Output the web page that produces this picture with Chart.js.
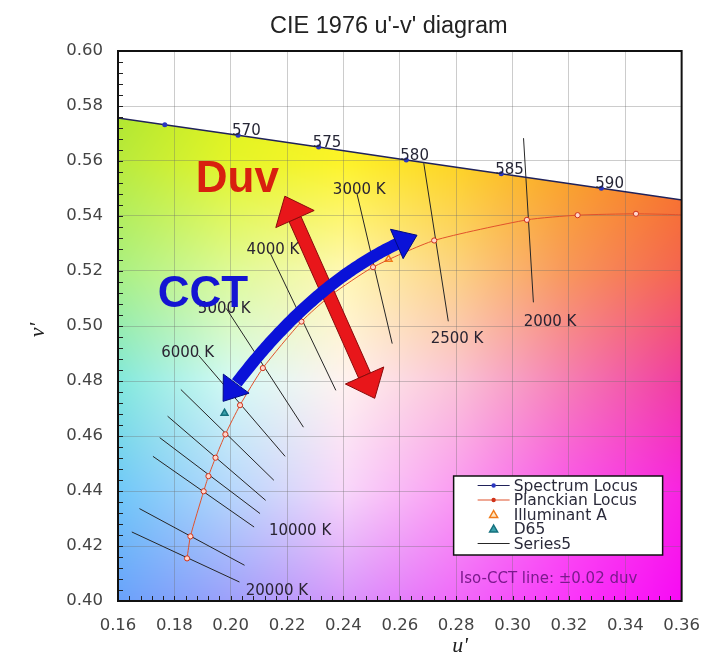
<!DOCTYPE html>
<html>
<head>
<meta charset="utf-8">
<script src="https://cdn.jsdelivr.net/npm/chart.js@4.4.1/dist/chart.umd.min.js"></script>
<style>
  body { margin: 0; background: #fff; }
</style>
</head>
<body>
<canvas id="myChart" width="715" height="659"></canvas>
<script>
// spectrum locus (nm, u', v')
const wlNm  = [560, 565, 570, 575, 580, 585, 590, 595];
const specU = [0.1531, 0.1766, 0.2026, 0.2312, 0.2623, 0.2960, 0.3315, 0.3681];
const specV = [0.5766, 0.5732, 0.5694, 0.5651, 0.5604, 0.5554, 0.5501, 0.5446];
const wlShown = [570, 575, 580, 585, 590];

// planckian locus
const planckK = [20000, 15000, 10000, 9000, 8000, 7000, 6000, 5000, 4000, 3500, 3000, 2500, 2000, 1800, 1600, 1500, 1400];
const planckU = [0.1845, 0.1857, 0.1904, 0.1921, 0.1946, 0.1981, 0.2033, 0.2114, 0.2251, 0.2357, 0.2505, 0.2722, 0.3051, 0.3231, 0.3438, 0.3579, 0.3822];
const planckV = [0.4155, 0.4235, 0.4399, 0.4454, 0.4521, 0.4606, 0.4712, 0.4847, 0.5016, 0.5113, 0.5214, 0.5311, 0.5386, 0.5403, 0.5408, 0.5405, 0.5396];
const planckMarked = [1, 1, 1, 1, 1, 1, 1, 1, 1, 1, 1, 1, 1, 1, 1, 0, 0];

const illumA = [0.2560, 0.5243];
const d65 = [0.1978, 0.4683];

// iso-CCT lines, +/-0.02 duv
const isoK  = [20000, 15000, 10000, 9000, 8000, 7000, 6000, 5000, 4000, 3000, 2500, 2000];
const isoU1 = [0.1649, 0.1676, 0.1724, 0.1748, 0.1776, 0.1823, 0.1886, 0.1984, 0.2141, 0.2448, 0.2685, 0.3039];
const isoV1 = [0.4251, 0.4336, 0.4526, 0.4594, 0.4672, 0.4769, 0.4893, 0.5064, 0.5263, 0.5481, 0.5592, 0.5683];
const isoU2 = [0.2031, 0.2049, 0.2083, 0.2104, 0.2124, 0.2153, 0.2193, 0.2258, 0.2373, 0.2573, 0.2772, 0.3074];
const isoV2 = [0.4069, 0.4130, 0.4269, 0.4318, 0.4366, 0.4439, 0.4526, 0.4632, 0.4766, 0.4936, 0.5017, 0.5086];

const cctText = ['3000 K', '4000 K', '5000 K', '6000 K', '10000 K', '20000 K', '2500 K', '2000 K'];
const cctTextU = [0.2456, 0.2150, 0.1977, 0.1847, 0.2246, 0.2164, 0.2803, 0.3133];
const cctTextV = [0.5493, 0.5275, 0.5063, 0.4903, 0.4255, 0.4037, 0.4953, 0.5015];

const xTicks = [0.16, 0.18, 0.20, 0.22, 0.24, 0.26, 0.28, 0.30, 0.32, 0.34, 0.36];
const yTicks = [0.40, 0.42, 0.44, 0.46, 0.48, 0.50, 0.52, 0.54, 0.56, 0.58, 0.60];

// annotation arrows (u', v')
const duvArrow = [[0.2192, 0.5472], [0.2511, 0.4737]];
const cctArrow = [[0.1973, 0.4726], [0.2289, 0.5180], [0.2661, 0.5330]];
const duvTextAt = [0.1876, 0.5486];
const cctTextAt = [0.1741, 0.5068];

// colour field under the locus, rows v' = .60 .56 .52 .48 .44 .40, cols u' = .16 .. .36
const bgGrid = [
  [[165,226,35],[215,238,20],[250,240,10],[250,215,10],[250,170,10],[250,120,10]],
  [[185,234,60],[228,245,40],[253,243,40],[253,212,35],[250,165,35],[248,120,35]],
  [[170,240,130],[222,250,150],[255,248,180],[252,210,130],[248,150,90],[244,100,80]],
  [[130,232,220],[212,250,245],[255,242,240],[250,195,215],[245,125,180],[240,60,160]],
  [[112,200,248],[182,215,252],[248,215,250],[250,155,242],[250,85,235],[248,35,225]],
  [[105,162,250],[158,160,250],[215,150,250],[240,105,250],[250,55,250],[248,10,245]]
];

let specPts = specU.map((u, i) => ({x: u, y: specV[i]}));
let planckPts = planckU.map((u, i) => ({x: u, y: planckV[i]}));
let isoPts = [];
isoK.forEach((k, i) => {
  isoPts.push({x: isoU1[i], y: isoV1[i]});
  isoPts.push({x: isoU2[i], y: isoV2[i]});
  isoPts.push({x: null, y: null});
});

let bgCanvas = null;

const colourField = {
  id: 'colourField',
  beforeDraw(chart) {
    const {ctx, chartArea: a, scales: {x, y}} = chart;
    const w = Math.round(a.right - a.left), h = Math.round(a.bottom - a.top);
    if (!bgCanvas) {
      bgCanvas = document.createElement('canvas');
      bgCanvas.width = w; bgCanvas.height = h;
      const c = bgCanvas.getContext('2d');
      const img = c.createImageData(w, h);
      for (let j = 0; j < h; j++) {
        const v = y.getValueForPixel(a.top + j + 0.5);
        let gv = Math.min(4.999, Math.max(0, (0.60 - v) / 0.04));
        const r0 = Math.floor(gv), fv = gv - r0;
        for (let i = 0; i < w; i++) {
          const u = x.getValueForPixel(a.left + i + 0.5);
          let gu = Math.min(4.999, Math.max(0, (u - 0.16) / 0.04));
          const c0 = Math.floor(gu), fu = gu - c0;
          const k = (j * w + i) * 4;
          for (let ch = 0; ch < 3; ch++) {
            const top = bgGrid[r0][c0][ch] * (1 - fu) + bgGrid[r0][c0 + 1][ch] * fu;
            const bot = bgGrid[r0 + 1][c0][ch] * (1 - fu) + bgGrid[r0 + 1][c0 + 1][ch] * fu;
            img.data[k + ch] = top * (1 - fv) + bot * fv;
          }
          img.data[k + 3] = 255;
        }
      }
      c.putImageData(img, 0, 0);
    }
    ctx.save();
    ctx.beginPath();
    ctx.rect(a.left, a.top, w, h);
    ctx.clip();
    ctx.beginPath();
    specPts.forEach((p, i) => {
      const px = x.getPixelForValue(p.x), py = y.getPixelForValue(p.y);
      if (i == 0) ctx.moveTo(px, py); else ctx.lineTo(px, py);
    });
    ctx.lineTo(x.getPixelForValue(specPts[specPts.length - 1].x), a.bottom + 5);
    ctx.lineTo(x.getPixelForValue(specPts[0].x), a.bottom + 5);
    ctx.closePath();
    ctx.clip();
    ctx.drawImage(bgCanvas, a.left, a.top, w, h);
    ctx.restore();
  }
};

function arrowHead(ctx, tip, dir, len, width) {
  const bx = tip[0] - dir[0] * len, by = tip[1] - dir[1] * len;
  const nx = -dir[1], ny = dir[0];
  ctx.beginPath();
  ctx.moveTo(tip[0], tip[1]);
  ctx.lineTo(bx + nx * width / 2, by + ny * width / 2);
  ctx.lineTo(bx - nx * width / 2, by - ny * width / 2);
  ctx.closePath();
  ctx.fill();
  ctx.stroke();
}

function unit(dx, dy) {
  const l = Math.hypot(dx, dy);
  return [dx / l, dy / l];
}

const annotations = {
  id: 'annotations',
  afterDatasetsDraw(chart) {
    const {ctx, chartArea: a, scales: {x, y}} = chart;
    const px = u => x.getPixelForValue(u), py = v => y.getPixelForValue(v);
    ctx.save();

    // CCT labels
    ctx.font = '15px "DejaVu Sans"';
    ctx.fillStyle = '#2a2432';
    ctx.textAlign = 'center';
    ctx.textBaseline = 'middle';
    cctText.forEach((t, i) => ctx.fillText(t, px(cctTextU[i]), py(cctTextV[i])));

    // wavelength labels
    ctx.textAlign = 'left';
    ctx.textBaseline = 'alphabetic';
    ctx.fillStyle = '#262636';
    wlShown.forEach(nm => {
      const k = wlNm.indexOf(nm);
      ctx.fillText(String(nm), px(specU[k]) - 6, py(specV[k]));
    });

    // Duv arrow
    const p0 = [px(duvArrow[0][0]), py(duvArrow[0][1])];
    const p1 = [px(duvArrow[1][0]), py(duvArrow[1][1])];
    const d = unit(p1[0] - p0[0], p1[1] - p0[1]);
    ctx.fillStyle = '#e8161a';
    ctx.strokeStyle = '#8a0a0a';
    ctx.lineWidth = 1;
    const hl = 25, sw = 13;
    const s0 = [p0[0] + d[0] * hl, p0[1] + d[1] * hl];
    const s1 = [p1[0] - d[0] * hl, p1[1] - d[1] * hl];
    const n = [-d[1] * sw / 2, d[0] * sw / 2];
    ctx.beginPath();
    ctx.moveTo(s0[0] + n[0], s0[1] + n[1]);
    ctx.lineTo(s1[0] + n[0], s1[1] + n[1]);
    ctx.lineTo(s1[0] - n[0], s1[1] - n[1]);
    ctx.lineTo(s0[0] - n[0], s0[1] - n[1]);
    ctx.closePath();
    ctx.fill();
    ctx.stroke();
    arrowHead(ctx, p0, [-d[0], -d[1]], hl, 42);
    arrowHead(ctx, p1, d, hl, 42);

    // CCT arrow (quadratic curve)
    const q0 = [px(cctArrow[0][0]), py(cctArrow[0][1])];
    const qc = [px(cctArrow[1][0]), py(cctArrow[1][1])];
    const q2 = [px(cctArrow[2][0]), py(cctArrow[2][1])];
    const bez = t => [
      (1 - t) * (1 - t) * q0[0] + 2 * (1 - t) * t * qc[0] + t * t * q2[0],
      (1 - t) * (1 - t) * q0[1] + 2 * (1 - t) * t * qc[1] + t * t * q2[1]
    ];
    const chord = Math.hypot(q2[0] - q0[0], q2[1] - q0[1]);
    const bl = 22, tcut = bl / chord;
    ctx.strokeStyle = '#0a12d8';
    ctx.lineWidth = 12;
    ctx.lineCap = 'butt';
    ctx.beginPath();
    for (let t = tcut - 0.01; t <= 1 - tcut + 0.011; t += 0.01) {
      const p = bez(t);
      if (t < tcut) ctx.moveTo(p[0], p[1]); else ctx.lineTo(p[0], p[1]);
    }
    ctx.stroke();
    ctx.fillStyle = '#0a12d8';
    ctx.strokeStyle = '#000a80';
    ctx.lineWidth = 1;
    const e0 = bez(tcut), e1 = bez(1 - tcut);
    arrowHead(ctx, q0, unit(q0[0] - e0[0], q0[1] - e0[1]), bl, 32);
    arrowHead(ctx, q2, unit(q2[0] - e1[0], q2[1] - e1[1]), bl, 32);

    // big labels
    ctx.font = 'bold 44px "Liberation Sans"';
    ctx.textAlign = 'left';
    ctx.textBaseline = 'alphabetic';
    ctx.fillStyle = '#d8200f';
    ctx.fillText('Duv', px(duvTextAt[0]), py(duvTextAt[1]));
    ctx.fillStyle = '#1414d2';
    ctx.fillText('CCT', px(cctTextAt[0]), py(cctTextAt[1]));

    // note
    ctx.font = '15px "DejaVu Sans"';
    ctx.fillStyle = '#7a1a8c';
    ctx.textAlign = 'center';
    ctx.textBaseline = 'middle';
    ctx.fillText('Iso-CCT line: \u00b10.02 duv', px(0.3128), py(0.4079));

    // legend
    const lx = a.right - 228, ly = a.bottom - 125;
    ctx.fillStyle = '#fff';
    ctx.fillRect(lx, ly, 209, 79);
    ctx.strokeStyle = '#111';
    ctx.lineWidth = 1.5;
    ctx.strokeRect(lx, ly, 209, 79);
    ctx.font = '15.5px "DejaVu Sans"';
    ctx.textAlign = 'left';
    chart.data.datasets.forEach((ds, i) => {
      const iy = ly + 9.5 + i * 14.5;
      const cx = lx + 40;
      if (ds.showLine) {
        ctx.strokeStyle = ds.borderColor;
        ctx.lineWidth = 1.2;
        ctx.beginPath();
        ctx.moveTo(lx + 24, iy);
        ctx.lineTo(lx + 56, iy);
        ctx.stroke();
      }
      if (ds.legendMark == 'dot') {
        ctx.fillStyle = ds.pointBorderColor;
        ctx.beginPath();
        ctx.arc(cx, iy, 2.2, 0, Math.PI * 2);
        ctx.fill();
      } else if (ds.legendMark == 'tri') {
        ctx.fillStyle = ds.pointBackgroundColor;
        ctx.strokeStyle = ds.pointBorderColor;
        ctx.lineWidth = 1.5;
        ctx.beginPath();
        ctx.moveTo(cx, iy - 4);
        ctx.lineTo(cx + 4, iy + 3);
        ctx.lineTo(cx - 4, iy + 3);
        ctx.closePath();
        ctx.fill();
        ctx.stroke();
      }
      ctx.fillStyle = '#2a2a3a';
      ctx.fillText(ds.label, lx + 60, iy + 1);
    });
    ctx.restore();
  },
  afterDraw(chart) {
    const {ctx, chartArea: a, scales: {x, y}} = chart;
    ctx.save();
    // minor ticks
    ctx.strokeStyle = '#222';
    ctx.lineWidth = 1;
    ctx.beginPath();
    for (let v = 0.404; v < 0.5999; v += 0.004) {
      const yy = Math.round(y.getPixelForValue(v)) + 0.5;
      ctx.moveTo(a.left, yy);
      ctx.lineTo(a.left + 5, yy);
    }
    for (let u = 0.164; u < 0.3599; u += 0.004) {
      const xx = Math.round(x.getPixelForValue(u)) + 0.5;
      ctx.moveTo(xx, a.bottom);
      ctx.lineTo(xx, a.bottom - 5);
    }
    ctx.stroke();
    // frame
    ctx.strokeStyle = '#111';
    ctx.lineWidth = 2;
    ctx.strokeRect(a.left, a.top, a.right - a.left, a.bottom - a.top);
    // title
    ctx.fillStyle = '#222';
    ctx.font = '23.5px "Liberation Sans"';
    ctx.textAlign = 'center';
    ctx.textBaseline = 'alphabetic';
    ctx.fillText("CIE 1976 u'-v' diagram", (a.left + a.right) / 2 - 11, 33);
    // axis titles
    ctx.font = 'italic 22px "Liberation Serif"';
    ctx.textBaseline = 'middle';
    ctx.fillText("u'", 460, 646);
    ctx.translate(38, 330);
    ctx.rotate(-Math.PI / 2);
    ctx.fillText("v'", 0, 0);
    ctx.restore();
  }
};

const ctx = document.getElementById('myChart');

new Chart(ctx, {
  type: 'scatter',
  data: {
    datasets: [
      {
        label: 'Spectrum Locus',
        data: specPts,
        showLine: true,
        legendMark: 'dot',
        borderColor: '#20225a',
        borderWidth: 1.5,
        pointRadius: 2.5,
        pointBackgroundColor: '#2a36c0',
        pointBorderColor: '#2a36c0',
        pointBorderWidth: 0
      },
      {
        label: 'Planckian Locus',
        data: planckPts,
        showLine: true,
        legendMark: 'dot',
        tension: 0.2,
        borderColor: '#e0522c',
        borderWidth: 1,
        pointRadius: planckMarked.map(m => m ? 2.6 : 0),
        pointBackgroundColor: '#ffd6cc',
        pointBorderColor: '#d0321a',
        pointBorderWidth: 1
      },
      {
        label: 'Illuminant A',
        data: [{x: illumA[0], y: illumA[1]}],
        legendMark: 'tri',
        pointStyle: 'triangle',
        pointRadius: 4,
        pointBackgroundColor: '#ffe6c0',
        pointBorderColor: '#f07a18',
        pointBorderWidth: 1.5
      },
      {
        label: 'D65',
        data: [{x: d65[0], y: d65[1]}],
        legendMark: 'tri',
        pointStyle: 'triangle',
        pointRadius: 4,
        pointBackgroundColor: '#3aa0aa',
        pointBorderColor: '#14707e',
        pointBorderWidth: 1.5
      },
      {
        label: 'Series5',
        data: isoPts,
        showLine: true,
        spanGaps: false,
        borderColor: '#262626',
        borderWidth: 1,
        pointRadius: 0
      }
    ]
  },
  options: {
    responsive: false,
    animation: false,
    events: [],
    layout: {padding: {top: 51, right: 21, bottom: 0, left: 0}},
    plugins: {
      legend: {display: false},
      tooltip: {enabled: false},
      title: {display: false}
    },
    scales: {
      x: {
        type: 'linear',
        min: 0.16,
        max: 0.36,
        afterFit: s => { s.height = 58; },
        afterBuildTicks: s => { s.ticks = xTicks.map(v => ({value: v})); },
        grid: {color: 'rgba(110,110,110,0.35)', drawTicks: false},
        border: {display: false},
        ticks: {
          padding: 15,
          color: '#444',
          font: {family: 'DejaVu Sans', size: 16.5},
          callback: v => v.toFixed(2)
        }
      },
      y: {
        type: 'linear',
        min: 0.40,
        max: 0.60,
        afterFit: s => { s.width = 118; },
        afterBuildTicks: s => { s.ticks = yTicks.map(v => ({value: v})); },
        grid: {color: 'rgba(110,110,110,0.35)', drawTicks: false},
        border: {display: false},
        ticks: {
          padding: 15,
          color: '#444',
          font: {family: 'DejaVu Sans', size: 16.5},
          callback: v => v.toFixed(2)
        }
      }
    }
  },
  plugins: [colourField, annotations]
});
</script>
</body>
</html>
